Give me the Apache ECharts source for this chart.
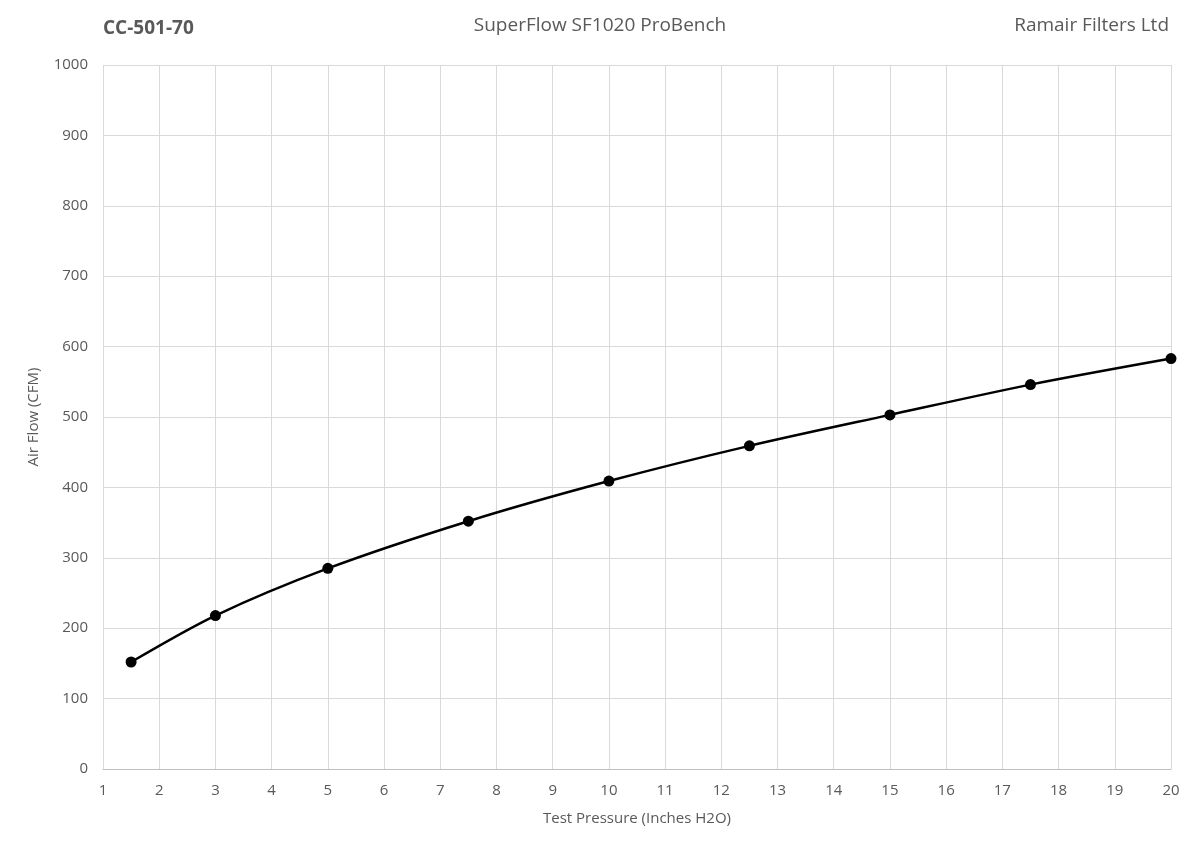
<!DOCTYPE html>
<html>
<head>
<meta charset="utf-8">
<script src="https://cdn.jsdelivr.net/npm/echarts@6/dist/echarts.min.js"></script>
<style>
  html, body { margin: 0; padding: 0; background: #fff; }
  #chart { width: 1200px; height: 854px; }
</style>
</head>
<body>
<div id="chart"></div>
<script>
// test pressure (inches H2O) and measured air flow (CFM)
var pressure = [1.5, 3, 5, 7.5, 10, 12.5, 15, 17.5, 20];
var airFlow = [152, 218, 285, 352, 409, 459, 503, 546, 583];

var textColor = '#595959';
var font = '"Open Sans", "Liberation Sans", sans-serif';

var points = pressure.map(function (p, i) { return [p, airFlow[i]]; });

var option = {
    backgroundColor: '#fff',
    animation: false,
    textStyle: { fontFamily: font },
    title: [
        {
            text: 'CC-501-70',
            left: 103, top: 19, padding: 0,
            textStyle: { fontFamily: font, fontSize: 19, fontWeight: 'bold', color: textColor }
        },
        {
            text: 'SuperFlow SF1020 ProBench',
            left: 'center', top: 16, padding: 0,
            textStyle: { fontFamily: font, fontSize: 19, fontWeight: 'normal', color: textColor }
        },
        {
            text: 'Ramair Filters Ltd',
            right: 31, top: 16, padding: 0,
            textStyle: { fontFamily: font, fontSize: 19, fontWeight: 'normal', color: textColor }
        }
    ],
    grid: { left: 103, right: 29, top: 65, bottom: 85, containLabel: false },
    xAxis: {
        type: 'value',
        min: 1, max: 20, interval: 1,
        name: 'Test Pressure (Inches H2O)',
        nameLocation: 'middle',
        nameGap: 42,
        nameTextStyle: { color: textColor, fontSize: 15, fontFamily: font },
        axisLine: { show: true, lineStyle: { color: '#bfbfbf', width: 1 } },
        axisTick: { show: false },
        axisLabel: { color: textColor, fontSize: 15, margin: 14, fontFamily: font },
        splitLine: { show: true, lineStyle: { color: '#d9d9d9', width: 1 } }
    },
    yAxis: {
        type: 'value',
        min: 0, max: 1000, interval: 100,
        name: 'Air Flow (CFM)',
        nameLocation: 'middle',
        nameGap: 62,
        nameTextStyle: { color: textColor, fontSize: 15, fontFamily: font },
        axisLine: { show: false },
        axisTick: { show: false },
        axisLabel: { color: textColor, fontSize: 15, margin: 15, fontFamily: font,
            formatter: function (v) { return String(v); } },
        splitLine: { show: true, lineStyle: { color: '#d9d9d9', width: 1 } }
    },
    series: [{
        type: 'line',
        data: points,
        smooth: 0.3,
        symbol: 'circle',
        symbolSize: 11,
        itemStyle: { color: '#000' },
        lineStyle: { color: '#000', width: 2.5 },
        z: 5
    }]
};

var chart = echarts.init(document.getElementById('chart'));
chart.setOption(option);
</script>
</body>
</html>
